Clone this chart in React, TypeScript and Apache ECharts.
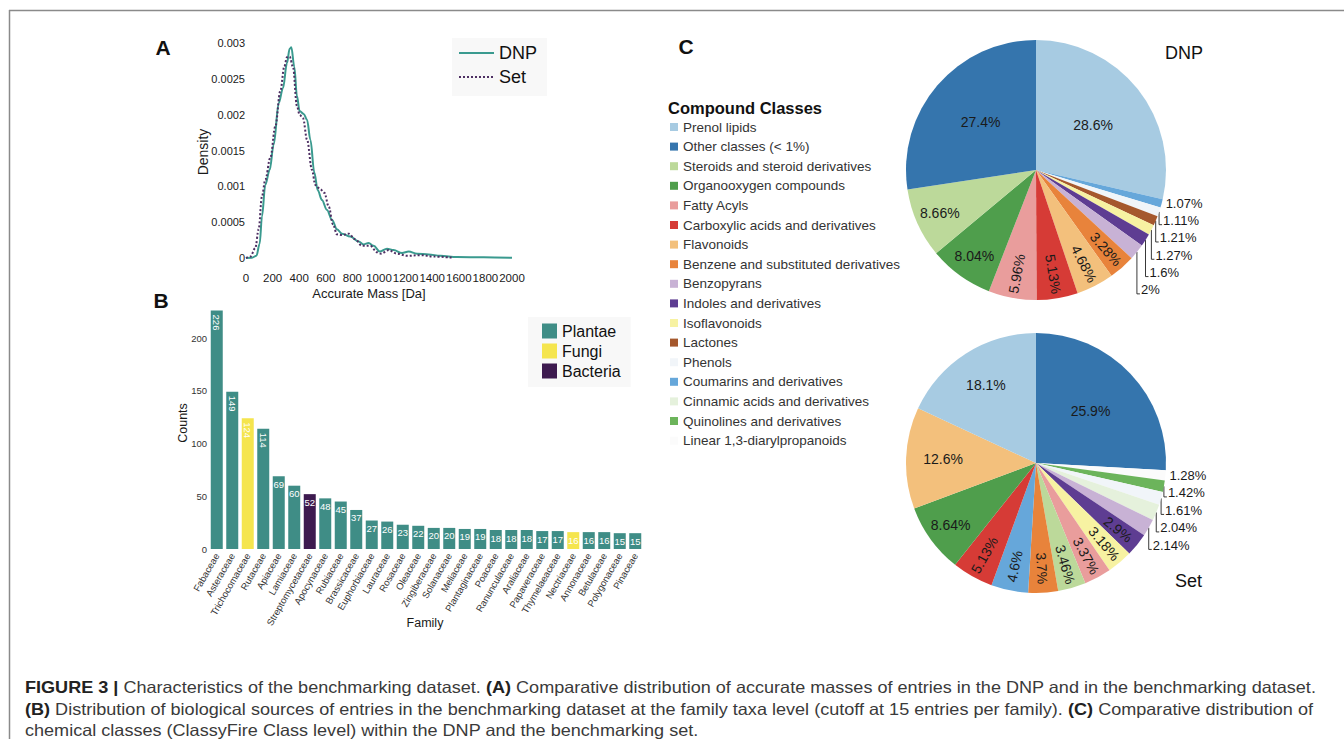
import React, { useEffect, useRef } from 'react';
import * as echarts from 'echarts';

const FONT = "'Liberation Sans', Arial, Helvetica, sans-serif";

// ---------- Panel A: density of accurate masses ----------
const dnpMass = [0, 45, 78, 103, 120, 145, 178, 208, 246, 278, 308, 328, 341, 363, 383, 403, 434, 459, 484, 514, 539, 571, 609, 647, 684, 722, 784, 847, 885, 922, 960, 1005, 1060, 1110, 1173, 1223, 1286, 1373, 1461, 1586, 1787, 2000];
const dnpDensity = [0, 0.000005, 0.00003, 0.0002, 0.00058, 0.00102, 0.00123, 0.00158, 0.00216, 0.00237, 0.00272, 0.00292, 0.00294, 0.00267, 0.00226, 0.00205, 0.00201, 0.00193, 0.00165, 0.00119, 0.00095, 0.00081, 0.00067, 0.00053, 0.0004, 0.00034, 0.0003, 0.00023, 0.00019, 0.00021, 0.00017, 0.00009, 0.00013, 0.00011, 0.00007, 0.00009, 0.00006, 0.00005, 0.00003, 0.000014, 0.00001, 0.000002];
const setMass = [0, 33, 70, 95, 120, 145, 183, 221, 258, 288, 308, 328, 353, 383, 403, 429, 459, 496, 521, 559, 589, 622, 654, 684, 722, 772, 822, 872, 935, 985, 1015, 1073, 1135, 1210, 1311, 1411, 1549];
const setDensity = [0, 0.00002, 0.00014, 0.0004, 0.00086, 0.00109, 0.0014, 0.00184, 0.00233, 0.00267, 0.0028, 0.00281, 0.00267, 0.00212, 0.002, 0.00195, 0.00165, 0.00123, 0.00102, 0.00096, 0.00091, 0.00072, 0.00047, 0.00033, 0.00032, 0.00034, 0.00026, 0.00017, 0.00017, 0.00008, 0.00006, 0.00011, 0.00006, 0.00003, 0.00004, 0.00002, 0.000005];

// ---------- Panel B: families ----------
const families = ['Fabaceae', 'Asteraceae', 'Trichocomaceae', 'Rutaceae', 'Apiaceae', 'Lamiaceae', 'Streptomycetaceae', 'Apocynaceae', 'Rubiaceae', 'Brassicaceae', 'Euphorbiaceae', 'Lauraceae', 'Rosaceae', 'Oleaceae', 'Zingiberaceae', 'Solanaceae', 'Meliaceae', 'Plantaginaceae', 'Poaceae', 'Ranunculaceae', 'Araliaceae', 'Papaveraceae', 'Thymelaeaceae', 'Nectriaceae', 'Annonaceae', 'Betulaceae', 'Polygonaceae', 'Pinaceae'];
const familyCounts = [226, 149, 124, 114, 69, 60, 52, 48, 45, 37, 27, 26, 23, 22, 20, 20, 19, 19, 18, 18, 18, 17, 17, 16, 16, 16, 15, 15];
const familyKingdom = ['Plantae', 'Plantae', 'Fungi', 'Plantae', 'Plantae', 'Plantae', 'Bacteria', 'Plantae', 'Plantae', 'Plantae', 'Plantae', 'Plantae', 'Plantae', 'Plantae', 'Plantae', 'Plantae', 'Plantae', 'Plantae', 'Plantae', 'Plantae', 'Plantae', 'Plantae', 'Plantae', 'Fungi', 'Plantae', 'Plantae', 'Plantae', 'Plantae'];
const kingdoms = ['Plantae', 'Fungi', 'Bacteria'];
const kingdomColors = ['#3f8d86', '#f5e54e', '#3d1a4f'];
const rotatedCountLabels = ['Fabaceae', 'Asteraceae', 'Trichocomaceae', 'Rutaceae'];

// ---------- Panel C: compound classes ----------
const classNames = ['Prenol lipids', 'Other classes (< 1%)', 'Steroids and steroid derivatives', 'Organooxygen compounds', 'Fatty Acyls', 'Carboxylic acids and derivatives', 'Flavonoids', 'Benzene and substituted derivatives', 'Benzopyrans', 'Indoles and derivatives', 'Isoflavonoids', 'Lactones', 'Phenols', 'Coumarins and derivatives', 'Cinnamic acids and derivatives', 'Quinolines and derivatives', 'Linear 1,3-diarylpropanoids'];
const classColors = ['#a7cbe2', '#3575ad', '#bcd99a', '#4f9e4c', '#e99d9c', '#d63b36', '#f3c07c', '#e8833b', '#c8b2d5', '#5e3d92', '#f7f2a2', '#a5582d', '#f1f5f9', '#66a7da', '#e5f1dc', '#6cb45b', '#fbfbfb'];

const dnpClasses = ['Prenol lipids', 'Coumarins and derivatives', 'Phenols', 'Lactones', 'Isoflavonoids', 'Indoles and derivatives', 'Benzopyrans', 'Benzene and substituted derivatives', 'Flavonoids', 'Carboxylic acids and derivatives', 'Fatty Acyls', 'Organooxygen compounds', 'Steroids and steroid derivatives', 'Other classes (< 1%)'];
const dnpShares = [28.6, 1.07, 1.11, 1.21, 1.27, 1.6, 2, 3.28, 4.68, 5.13, 5.96, 8.04, 8.66, 27.4];
const setClasses = ['Other classes (< 1%)', 'Linear 1,3-diarylpropanoids', 'Quinolines and derivatives', 'Phenols', 'Cinnamic acids and derivatives', 'Benzopyrans', 'Indoles and derivatives', 'Isoflavonoids', 'Fatty Acyls', 'Steroids and steroid derivatives', 'Benzene and substituted derivatives', 'Coumarins and derivatives', 'Carboxylic acids and derivatives', 'Organooxygen compounds', 'Flavonoids', 'Prenol lipids'];
const setShares = [25.9, 1.28, 1.42, 1.61, 2.04, 2.14, 2.9, 3.18, 3.37, 3.46, 3.7, 4.6, 5.13, 8.64, 12.6, 18.1];

// label placement groups (style only)
const dnpBig = ['Prenol lipids', 'Other classes (< 1%)'];
const dnpMid = ['Steroids and steroid derivatives', 'Organooxygen compounds', 'Fatty Acyls', 'Carboxylic acids and derivatives', 'Flavonoids', 'Benzene and substituted derivatives'];
const dnpSmall = ['Coumarins and derivatives', 'Phenols', 'Lactones', 'Isoflavonoids', 'Indoles and derivatives', 'Benzopyrans'];
const dnpRadial = ['Fatty Acyls', 'Carboxylic acids and derivatives', 'Flavonoids', 'Benzene and substituted derivatives'];
const setBig = ['Other classes (< 1%)'];
const setNear = ['Prenol lipids', 'Flavonoids'];
const setMid = ['Organooxygen compounds', 'Carboxylic acids and derivatives', 'Coumarins and derivatives', 'Benzene and substituted derivatives', 'Steroids and steroid derivatives', 'Fatty Acyls', 'Isoflavonoids', 'Indoles and derivatives'];
const setSmall = ['Linear 1,3-diarylpropanoids', 'Quinolines and derivatives', 'Phenols', 'Cinnamic acids and derivatives', 'Benzopyrans'];
const setRadial = ['Carboxylic acids and derivatives', 'Coumarins and derivatives', 'Benzene and substituted derivatives', 'Steroids and steroid derivatives', 'Fatty Acyls', 'Isoflavonoids', 'Indoles and derivatives'];

const PIE_R = 130;
const DNP_CENTER = [1036, 170];
const SET_CENTER = [1036, 463];

const colorOf = (n: string) => classColors[classNames.indexOf(n)];

function smallLabelLayout(names: string[], shares: number[], small: string[], center: number[], step: number) {
  const total = shares.reduce((a, b) => a + b, 0);
  const edge = (idx: number) => {
    let c = 0;
    for (let i = 0; i < idx; i++) c += shares[i];
    const a = ((c + shares[idx] / 2) / total) * Math.PI * 2;
    return [center[0] + PIE_R * Math.sin(a), center[1] - PIE_R * Math.cos(a)];
  };
  const yFirst = edge(names.indexOf(small[0]))[1];
  return (p: any) => {
    const name = names[p.dataIndex];
    const k = small.indexOf(name);
    if (k < 0) return {};
    const [x0, y0] = edge(p.dataIndex);
    const ty = yFirst + k * step;
    const tx = x0 + 4;
    return {
      x: tx,
      y: ty,
      align: 'left',
      verticalAlign: 'middle',
      labelLinePoints: k === 0 ? [[x0, y0], [x0, y0], [x0, y0]] : [[x0, y0], [x0, ty + 4], [tx - 1, ty + 4]],
    };
  };
}

function coloredPie(name: string, center: number[], names: string[], shares: number[], small: string[], step: number) {
  return {
    type: 'pie',
    name,
    center,
    radius: [0, PIE_R],
    startAngle: 90,
    clockwise: true,
    avoidLabelOverlap: false,
    silent: true,
    itemStyle: { borderWidth: 0 },
    label: { show: false, position: 'outside', fontSize: 13, color: '#1a1a1a', formatter: '{c}%', fontFamily: FONT },
    labelLine: { show: false, length: 2, length2: 2, lineStyle: { color: '#222', width: 0.9 } },
    labelLayout: smallLabelLayout(names, shares, small, center, step),
    data: names.map((n, i) => ({
      name: n,
      value: shares[i],
      itemStyle: { color: colorOf(n) },
      label: { show: small.includes(n) },
      labelLine: { show: small.indexOf(n) > 0 },
    })),
  };
}

function labelRing(name: string, center: number[], r0: number, names: string[], shares: number[], show: string[], radial: string[]) {
  return {
    type: 'pie',
    name,
    center,
    radius: [r0, PIE_R],
    startAngle: 90,
    clockwise: true,
    silent: true,
    avoidLabelOverlap: false,
    legendHoverLink: false,
    itemStyle: { color: 'rgba(0,0,0,0)', borderWidth: 0 },
    label: { show: false, position: 'inside', color: '#1a1a1a', fontSize: 14, formatter: '{c}%', fontFamily: FONT },
    labelLine: { show: false },
    emphasis: { disabled: true },
    data: names.map((n, i) => ({
      name: n,
      value: shares[i],
      label: { show: show.includes(n), rotate: radial.includes(n) ? 'radial' : 0 },
    })),
  };
}

function buildOption(): any {
  const barSeries = kingdoms.map((k, ki) => ({
    type: 'bar',
    name: k,
    xAxisIndex: 1,
    yAxisIndex: 1,
    stack: 'families',
    barWidth: 12,
    itemStyle: { color: kingdomColors[ki] },
    label: { show: true, position: 'insideTop', distance: 3, color: '#fff', fontSize: 9.5, fontFamily: FONT },
    data: families.map((f, i) =>
      familyKingdom[i] === k
        ? {
            value: familyCounts[i],
            label: rotatedCountLabels.includes(f) ? { rotate: -90, align: 'left', verticalAlign: 'middle', distance: 4 } : {},
          }
        : '-'
    ),
  }));

  const CAP = 16.5;
  const CAP_SX = 1.095;
  const captionRich = {
    b: { fontWeight: 'bold', fontSize: CAP, fontFamily: FONT, fill: '#222' },
  };
  const captionStyle = (text: string, y: number) => ({
    type: 'text',
    x: 25,
    y,
    scaleX: CAP_SX,
    style: { text, fontSize: CAP, fontFamily: FONT, fill: '#3a3a3a', verticalAlign: 'middle', rich: captionRich },
  });

  return {
    animation: false,
    backgroundColor: '#ffffff',
    textStyle: { fontFamily: FONT },
    grid: [
      { left: 246, top: 43, width: 266, height: 215 },
      { left: 209, top: 306.35, width: 434, height: 242.65 },
    ],
    xAxis: [
      {
        gridIndex: 0, type: 'value', min: 0, max: 2000, interval: 200,
        axisLine: { show: false }, axisTick: { show: false }, splitLine: { show: false },
        axisLabel: { fontSize: 11.5, color: '#1a1a1a', margin: 14, showMaxLabel: true, formatter: (v: number) => String(v) },
      },
      {
        gridIndex: 1, type: 'category', data: families,
        axisLine: { show: false }, axisTick: { show: false },
        axisLabel: { rotate: 60, fontSize: 9.5, color: '#333', margin: 5, interval: 0 },
      },
    ],
    yAxis: [
      {
        gridIndex: 0, type: 'value', min: 0, max: 0.003, interval: 0.0005,
        axisLine: { show: false }, axisTick: { show: false }, splitLine: { show: false },
        axisLabel: { fontSize: 11, color: '#1a1a1a', margin: 1, formatter: (v: number) => String(+v.toFixed(4)) },
      },
      {
        gridIndex: 1, type: 'value', min: 0, max: 230, interval: 50,
        axisLine: { show: false }, axisTick: { show: false }, splitLine: { show: false },
        axisLabel: { fontSize: 9.5, color: '#333', margin: 2, showMaxLabel: false },
      },
    ],
    legend: [
      {
        data: ['DNP', 'Set'], orient: 'vertical', left: 452, top: 38, padding: [6, 10, 10, 6],
        itemWidth: 35, itemHeight: 14, itemGap: 6, backgroundColor: '#f8f8f8', selectedMode: false,
        itemStyle: { opacity: 0 },
        textStyle: { fontSize: 18, color: '#111' },
      },
      {
        data: kingdoms, orient: 'vertical', left: 528, top: 317, padding: [6, 10, 8, 14], icon: 'rect',
        itemWidth: 15, itemHeight: 15, itemGap: 4, backgroundColor: '#f8f8f8', selectedMode: false,
        textStyle: { fontSize: 16, color: '#111' },
      },
      {
        data: classNames, orient: 'vertical', left: 670, top: 120, padding: 0, icon: 'rect',
        itemWidth: 8, itemHeight: 8, itemGap: 5.6, selectedMode: false,
        textStyle: { fontSize: 13.5, color: '#333' },
      },
    ],
    series: [
      {
        type: 'line', name: 'DNP', xAxisIndex: 0, yAxisIndex: 0, symbol: 'none',
        smooth: 0.35, smoothMonotone: 'x',
        lineStyle: { color: '#3a9a8f', width: 2 }, itemStyle: { color: '#3a9a8f' },
        data: dnpMass.map((m, i) => [m, dnpDensity[i]]),
      },
      {
        type: 'line', name: 'Set', xAxisIndex: 0, yAxisIndex: 0, symbol: 'none',
        smooth: 0.35, smoothMonotone: 'x',
        lineStyle: { color: '#4e2f63', width: 2, type: 'dotted' }, itemStyle: { color: '#4e2f63' },
        data: setMass.map((m, i) => [m, setDensity[i]]),
      },
      ...barSeries,
      coloredPie('DNP classes', DNP_CENTER, dnpClasses, dnpShares, dnpSmall, 17.3),
      coloredPie('Set classes', SET_CENTER, setClasses, setShares, setSmall, 17.5),
      labelRing('DNP big labels', DNP_CENTER, 10, dnpClasses, dnpShares, dnpBig, dnpRadial),
      labelRing('DNP mid labels', DNP_CENTER, 75, dnpClasses, dnpShares, dnpMid, dnpRadial),
      labelRing('Set big labels', SET_CENTER, 14, setClasses, setShares, setBig, setRadial),
      labelRing('Set near labels', SET_CENTER, 50, setClasses, setShares, setNear, setRadial),
      labelRing('Set mid labels', SET_CENTER, 75, setClasses, setShares, setMid, setRadial),
    ],
    graphic: [
      { type: 'line', shape: { x1: 9, y1: 10.5, x2: 1344, y2: 10.5 }, style: { stroke: '#8a8a8a', lineWidth: 1.5 } },
      { type: 'line', shape: { x1: 9.5, y1: 10, x2: 9.5, y2: 739 }, style: { stroke: '#8a8a8a', lineWidth: 1.5 } },
      { type: 'text', x: 163, y: 47, style: { text: 'A', fontSize: 21, fontWeight: 'bold', fontFamily: FONT, fill: '#111', align: 'center', verticalAlign: 'middle' } },
      { type: 'text', x: 161, y: 300, style: { text: 'B', fontSize: 21, fontWeight: 'bold', fontFamily: FONT, fill: '#111', align: 'center', verticalAlign: 'middle' } },
      { type: 'text', x: 686, y: 46, style: { text: 'C', fontSize: 21, fontWeight: 'bold', fontFamily: FONT, fill: '#111', align: 'center', verticalAlign: 'middle' } },
      { type: 'text', x: 203, y: 152, rotation: Math.PI / 2, style: { text: 'Density', fontSize: 14, fontFamily: FONT, fill: '#1a1a1a', align: 'center', verticalAlign: 'middle' } },
      { type: 'text', x: 369, y: 293, style: { text: 'Accurate Mass [Da]', fontSize: 13, fontFamily: FONT, fill: '#1a1a1a', align: 'center', verticalAlign: 'middle' } },
      { type: 'text', x: 183, y: 423, rotation: Math.PI / 2, style: { text: 'Counts', fontSize: 12.5, fontFamily: FONT, fill: '#1a1a1a', align: 'center', verticalAlign: 'middle' } },
      { type: 'text', x: 425, y: 623, style: { text: 'Family', fontSize: 12.5, fontFamily: FONT, fill: '#1a1a1a', align: 'center', verticalAlign: 'middle' } },
      { type: 'text', x: 668, y: 108, style: { text: 'Compound Classes', fontSize: 16.5, fontWeight: 'bold', fontFamily: FONT, fill: '#111', align: 'left', verticalAlign: 'middle' } },
      { type: 'text', x: 1165, y: 53, style: { text: 'DNP', fontSize: 18, fontFamily: FONT, fill: '#111', align: 'left', verticalAlign: 'middle' } },
      { type: 'text', x: 1175, y: 581, style: { text: 'Set', fontSize: 18, fontFamily: FONT, fill: '#111', align: 'left', verticalAlign: 'middle' } },
      captionStyle('{b|FIGURE 3 |} Characteristics of the benchmarking dataset. {b|(A)} Comparative distribution of accurate masses of entries in the DNP and in the benchmarking dataset.', 687),
      captionStyle('{b|(B)} Distribution of biological sources of entries in the benchmarking dataset at the family taxa level (cutoff at 15 entries per family). {b|(C)} Comparative distribution of', 709),
      captionStyle('chemical classes (ClassyFire Class level) within the DNP and the benchmarking set.', 730),
    ],
  };
}

export default function App() {
  const ref = useRef<HTMLDivElement>(null);
  useEffect(() => {
    if (!ref.current) return;
    const chart = echarts.init(ref.current, undefined, { renderer: 'svg' });
    chart.setOption(buildOption());
    return () => chart.dispose();
  }, []);
  return <div ref={ref} style={{ position: 'absolute', left: 0, top: 0, width: 1344, height: 739, background: '#fff' }} />;
}
